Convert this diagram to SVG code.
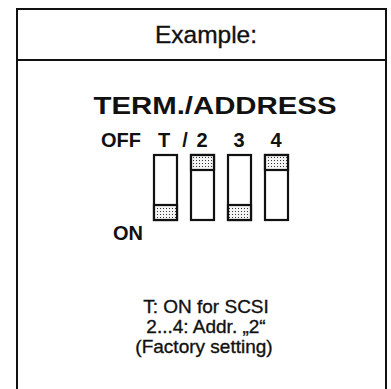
<svg xmlns="http://www.w3.org/2000/svg" width="391" height="389" viewBox="0 0 391 389">
<defs>
<pattern id="dots" width="3" height="3" patternUnits="userSpaceOnUse">
<rect width="3" height="3" fill="#f4f4f4"/>
<rect x="1" y="1" width="1" height="1" fill="#333"/>
</pattern>
</defs>
<style>
.frame{fill:none;stroke:#111;stroke-width:2}
.sw{fill:#fff;stroke:#111;stroke-width:2.2}
.knob{fill:url(#dots);stroke:#111;stroke-width:2.2}
text{font-family:"Liberation Sans",Arial,sans-serif;fill:#111}
.b{font-weight:bold}
.n{stroke:#111;stroke-width:0.35}
</style>
<rect width="391" height="389" fill="#fff"/>
<g id="frame">
<path class="frame" d="M17,389 V9 H386 V389"/>
<line class="frame" x1="17" y1="60" x2="386" y2="60"/>
</g>
<text class="n" x="206" y="43" font-size="24.5" text-anchor="middle">Example:</text>
<text x="215" y="114" font-size="23" class="b" text-anchor="middle" textLength="243" lengthAdjust="spacingAndGlyphs">TERM./ADDRESS</text>
<g id="labels" class="b" font-size="20">
<text x="101" y="147">OFF</text>
<text x="164" y="147" text-anchor="middle">T</text>
<text x="185" y="147" text-anchor="middle">/</text>
<text x="202" y="147" text-anchor="middle">2</text>
<text x="239" y="147" text-anchor="middle">3</text>
<text x="276" y="147" text-anchor="middle">4</text>
<text x="113" y="240">ON</text>
</g>
<g id="switch1"><rect class="sw" x="154" y="155" width="23" height="65"/><rect class="knob" x="154" y="205" width="23" height="15"/></g>
<g id="switch2"><rect class="sw" x="191" y="155" width="23" height="65"/><rect class="knob" x="191" y="155" width="23" height="15"/></g>
<g id="switch3"><rect class="sw" x="228" y="155" width="23" height="65"/><rect class="knob" x="228" y="205" width="23" height="15"/></g>
<g id="switch4"><rect class="sw" x="265" y="155" width="23" height="65"/><rect class="knob" x="265" y="155" width="23" height="15"/></g>
<g id="notes" class="n" font-size="19" text-anchor="middle">
<text x="206" y="313">T: ON for SCSI</text>
<text x="206" y="333">2...4: Addr. „2“</text>
<text x="204" y="353">(Factory setting)</text>
</g>
</svg>
